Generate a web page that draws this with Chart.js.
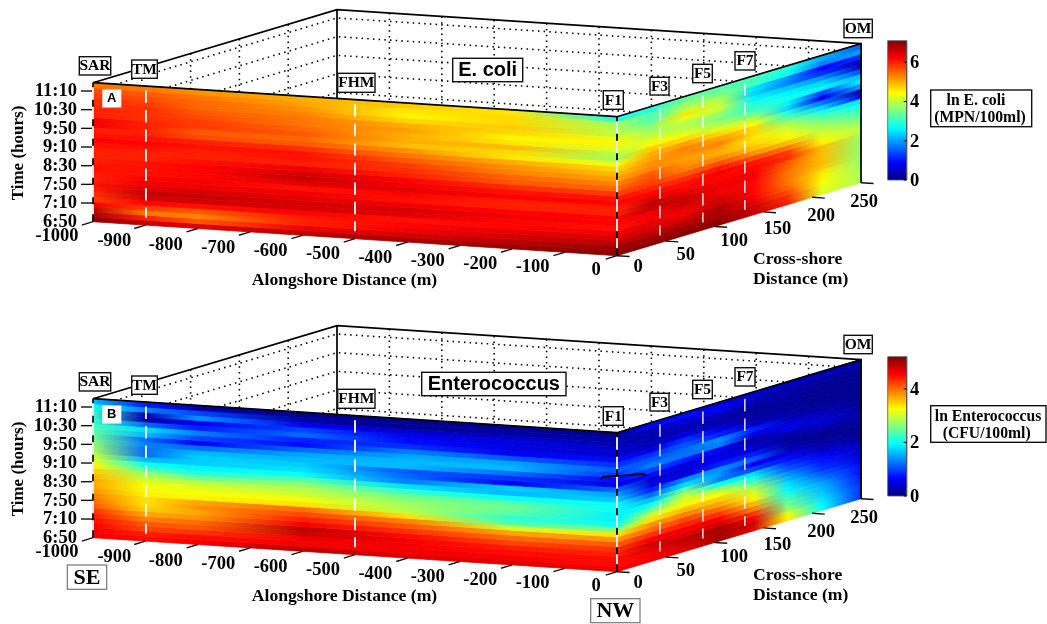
<!DOCTYPE html>
<html><head><meta charset="utf-8">
<script src="https://cdn.jsdelivr.net/npm/chart.js@4"></script>
<style>
html,body{margin:0;padding:0;background:#fff;width:1047px;height:624px;overflow:hidden}
canvas{position:absolute;left:0;filter:blur(0.45px)}
#a{top:0}#b{top:316px}
</style></head><body>
<canvas id="a" width="1047" height="308"></canvas>
<canvas id="b" width="1047" height="308"></canvas>
<script>
// ---- axes
const timeLabels=['6:50','7:10','7:50','8:30','9:10','9:50','10:30','11:10'];
const alongTicks=[-1000,-900,-800,-700,-600,-500,-400,-300,-200,-100,0];
const crossTicks=[0,50,100,150,200,250];
const frontCols=[-1000,-900,-800,-600,-400,-200,0];
const sideCols=[0,35,70,105,140,175,210,250];
const stationNames=['SAR','TM','FHM','F1','F3','F5','F7'];
const stationAlong=[-1000,-899,-500,0,0,0,0];
const stationCross=[0,0,0,0,44,88,131];

// ---- ln E. coli, alongshore wall, one list per alongshore position, top row (latest) first
const ecoliF1000=[5.4,5.7,5.8,5.9,5.9,6.0,6.0,6.3,6.3,6.0,6.1,6.2,6.1,6.0,6.0,6.0,6.1,6.1,6.0,6.0,6.1,6.0,5.9,5.8,6.3,6.7,6.8,7.0];
const ecoliF900=[5.4,5.6,5.7,5.8,5.9,5.9,5.9,6.0,6.0,6.0,6.1,6.2,6.1,6.0,6.0,6.1,6.1,6.1,6.2,6.3,6.4,6.6,6.5,6.2,5.8,5.4,6.0,6.6];
const ecoliF800=[5.2,5.4,5.5,5.5,5.6,5.7,5.8,5.8,5.6,5.7,6.0,6.1,6.0,6.0,6.1,6.2,6.2,6.2,6.3,6.3,6.5,6.6,6.5,6.1,5.6,5.3,5.6,6.4];
const ecoliF600=[5.0,5.1,5.2,5.3,5.4,5.4,5.5,5.6,5.5,5.6,5.9,6.1,6.1,6.0,6.3,6.5,6.6,6.4,6.1,6.3,6.4,6.5,6.5,6.2,6.0,6.0,6.3,6.7];
const ecoliF400=[4.8,4.6,4.5,4.7,5.0,5.1,5.0,5.0,4.9,5.2,5.4,5.6,5.8,5.9,6.0,6.2,6.3,6.4,6.2,6.1,6.3,6.5,6.4,6.1,6.2,6.3,6.5,6.8];
const ecoliF200=[4.6,4.7,4.7,4.8,4.7,4.5,4.6,4.9,4.7,4.6,5.0,5.2,5.3,5.5,5.6,5.9,6.1,6.2,6.0,6.0,6.2,6.3,6.2,6.2,6.4,6.5,6.7,6.9];
const ecoliF0=[2.9,3.8,3.9,4.0,4.3,4.5,4.2,3.9,3.8,4.3,4.7,4.9,5.1,5.3,5.5,5.8,6.1,6.2,6.0,6.0,6.2,6.2,6.1,6.3,6.5,6.7,6.9,7.0];
// ---- ln E. coli, cross-shore wall
const ecoliS35=[2.9,3.2,3.2,3.5,3.7,3.9,4.2,4.5,4.8,5.0,5.1,5.2,5.3,5.6,5.7,5.8,6.0,6.2,6.5,6.7,6.6,6.3,6.3,6.4,6.5,6.7,6.9,7.0];
const ecoliS70=[3.4,3.7,4.0,4.6,4.2,3.9,4.0,4.3,4.7,5.1,5.3,5.2,5.1,5.2,5.3,5.6,5.9,6.1,6.2,6.4,6.6,6.6,6.4,6.3,6.5,6.7,6.9,7.0];
const ecoliS105=[3.3,3.5,3.9,4.0,4.1,3.7,3.6,3.8,4.2,4.7,5.1,5.3,5.1,5.0,5.3,5.7,6.1,6.3,6.2,6.3,6.3,6.3,6.5,6.6,6.8,6.8,6.9,7.0];
const ecoliS140=[3.1,3.1,2.5,2.4,2.6,2.9,3.0,3.4,3.9,4.4,4.7,4.7,4.6,4.7,4.9,5.2,5.7,6.1,6.2,6.3,6.3,6.2,6.2,6.2,6.3,6.4,6.6,6.6];
const ecoliS175=[2.9,2.7,1.9,1.8,2.3,2.6,2.8,2.6,2.4,2.9,3.3,3.8,4.1,4.3,4.5,4.9,5.4,5.8,5.9,5.6,5.5,5.4,5.4,5.4,5.5,5.7,5.9,6.0];
const ecoliS210=[2.1,1.8,0.9,1.2,1.9,2.4,2.6,1.3,0.8,1.7,2.4,2.9,3.3,3.6,3.9,4.1,4.3,4.5,4.9,4.9,4.9,4.9,4.8,4.6,4.5,4.4,4.3,4.2];
const ecoliS250=[1.6,2.0,1.2,0.4,0.5,1.4,2.2,2.6,2.0,0.3,0.8,2.5,2.8,3.1,3.3,3.6,3.9,3.9,3.8,3.7,3.7,3.7,3.7,3.7,3.8,3.8,3.9,3.9];
// ---- ln Enterococcus, alongshore wall
const enteroF1000=[1.6,2.0,2.2,2.2,2.2,2.3,2.4,2.5,2.6,2.7,2.8,3.0,3.1,3.3,3.5,3.6,3.7,3.7,3.8,3.9,4.0,4.1,4.3,4.4,4.5,4.6,4.6,4.6];
const enteroF900=[0.8,1.3,0.3,0.2,1.2,1.8,1.6,1.2,1.3,1.2,1.2,1.6,2.0,2.4,2.8,3.0,3.2,3.2,3.3,3.4,3.4,3.5,3.7,3.9,4.1,4.2,4.4,4.5];
const enteroF800=[0.2,1.0,1.4,0.6,0.8,1.3,1.0,0.6,1.2,1.6,1.7,1.7,1.9,2.1,2.5,2.9,3.1,3.2,3.3,3.7,3.8,3.7,3.8,4.0,4.1,4.3,4.5,4.6];
const enteroF600=[0.1,0.2,0.6,1.0,1.2,0.8,0.7,1.2,1.5,1.6,1.7,1.8,2.0,2.4,2.7,2.9,3.0,3.2,3.4,4.0,4.2,4.4,4.6,4.9,4.8,4.6,4.6,4.9];
const enteroF400=[0.1,0.1,0.4,0.6,0.7,0.9,1.3,1.5,1.6,1.6,1.1,1.2,1.3,1.8,2.2,2.5,2.7,2.8,2.9,3.4,3.9,4.1,4.3,4.5,4.6,4.6,4.6,4.7];
const enteroF200=[0.1,0.2,0.4,0.5,0.5,0.6,1.1,1.5,1.6,1.2,0.9,0.6,1.7,1.6,2.0,2.4,2.5,2.4,2.2,2.3,3.0,3.7,4.0,4.2,4.4,4.5,4.6,4.7];
const enteroF0=[0.1,0.2,0.3,0.4,0.4,0.7,0.9,1.1,0.9,0.6,0.5,1.2,1.5,1.7,2.0,2.0,1.9,1.9,2.0,2.6,3.4,3.8,4.1,4.3,4.4,4.5,4.5,4.6];
// ---- ln Enterococcus, cross-shore wall
const enteroS35=[0.6,0.3,0.2,0.3,0.3,0.5,0.9,1.1,1.3,1.0,0.7,0.4,0.5,0.8,1.2,1.6,2.0,2.5,3.0,3.4,3.8,4.0,4.3,4.6,4.8,4.7,4.6,4.6];
const enteroS70=[0.7,0.5,0.3,0.3,0.5,0.9,1.1,1.2,1.2,0.8,0.5,0.4,0.5,1.4,1.8,2.5,2.9,3.1,3.3,3.6,3.9,4.2,4.4,4.6,4.7,4.9,4.8,4.7];
const enteroS105=[0.5,0.6,0.3,0.2,0.3,0.5,0.8,1.4,1.3,0.6,0.5,0.6,0.8,1.4,1.4,1.3,2.0,2.8,3.2,3.5,3.7,4.0,4.3,4.6,4.8,5.0,5.0,5.0];
const enteroS140=[0.4,0.3,0.2,0.15,0.15,0.2,0.4,0.8,0.5,0.2,0.3,0.4,0.8,1.1,0.6,1.0,1.8,2.1,2.5,2.9,3.1,3.3,3.6,3.9,4.3,4.6,4.8,4.7];
const enteroS175=[0.3,0.2,0.2,0.15,0.15,0.15,0.2,0.3,0.5,0.5,0.2,0.15,0.15,0.3,0.5,0.7,0.9,1.1,1.4,1.6,1.8,1.9,2.1,2.3,2.5,2.7,3.1,3.3];
const enteroS210=[0.3,0.2,0.1,0.1,0.1,0.1,0.1,0.2,0.3,0.4,0.4,0.2,0.1,0.1,0.2,0.3,0.5,0.7,0.8,0.9,1.1,1.3,1.5,1.6,1.7,1.8,1.9,2.0];
const enteroS250=[0.2,0.15,0.1,0.1,0.1,0.1,0.1,0.1,0.1,0.15,0.2,0.2,0.15,0.1,0.1,0.15,0.3,0.35,0.4,0.5,0.6,0.7,0.7,0.8,0.8,0.9,0.9,0.9];

const ecoliFront=[ecoliF1000,ecoliF900,ecoliF800,ecoliF600,ecoliF400,ecoliF200,ecoliF0];
const ecoliSide=[ecoliF0,ecoliS35,ecoliS70,ecoliS105,ecoliS140,ecoliS175,ecoliS210,ecoliS250];
const enteroFront=[enteroF1000,enteroF900,enteroF800,enteroF600,enteroF400,enteroF200,enteroF0];
const enteroSide=[enteroF0,enteroS35,enteroS70,enteroS105,enteroS140,enteroS175,enteroS210,enteroS250];

// ---- view
const ROWS=28, ZTOP=7.445;
function P(a,c,z){return {x:617+0.524*a+0.976*c, y:255.7+0.034*a-0.292*c-18.67*z};}
function jet(f){
  const cl=v=>Math.round(255*Math.max(0,Math.min(1,v)));
  return `rgb(${cl(Math.min(4*f-1.5,-4*f+4.5))},${cl(Math.min(4*f-0.5,-4*f+3.5))},${cl(Math.min(4*f+0.5,-4*f+2.5))})`;
}
const SERIF="'Liberation Serif'", SANS="'Liberation Sans'";
const alongLabelOff=[[-36,15],[-31,16],[-32,16.5],[-32,16.5],[-32,16],[-32,16],[-32,16],[-32,15.5],[-32,15.5],[-32,15.4],[-21,15]];
const crossLabelOff=[[21,12],[20,14],[19.4,15],[14,17],[9,18.5],[3,19.6]];
const stationBox=[[79.3,56.7,110.7,75],[131.7,60,157.3,78.3],[337.7,73.3,375,92.3],[603.3,90.7,623.3,109.3],[650,77.3,669,95],[692.7,64.3,712.3,82.7],[735,51.7,755,70]];

function line(pts,o){return Object.assign({data:pts,showLine:true,pointRadius:0,fill:false,tension:0,borderWidth:1,borderColor:'#000'},o);}

function makePanel(id,cfg){
  const canvas=document.getElementById(id), ctx=canvas.getContext('2d');
  const ds=[];
  const dotted={borderColor:'#000',borderWidth:1.6,borderDash:[1.5,4.2],order:100};
  // walls grid
  for(let k=1;k<timeLabels.length;k++){
    ds.push(line([P(-1000,0,k),P(-1000,250,k),P(0,250,k)],dotted));
  }
  alongTicks.slice(1,-1).forEach(a=>ds.push(line([P(a,250,ZTOP),P(a,250,0)],dotted)));
  crossTicks.slice(1,-1).forEach(c=>ds.push(line([P(-1000,c,ZTOP),P(-1000,c,0)],dotted)));
  const edge={borderColor:'#000',borderWidth:1.7};
  ds.push(line([P(-1000,0,ZTOP),P(-1000,250,ZTOP),P(0,250,ZTOP)],{...edge,order:90}));
  ds.push(line([P(-1000,250,ZTOP),P(-1000,250,0)],{...edge,order:90}));
  // heat strips
  function strips(cols,matrix,pt){
    const lo=cols[0], hi=cols[cols.length-1];
    for(let r=0;r<ROWS;r++){
      const zT=ZTOP*(1-r/ROWS), zB=ZTOP*(1-(r+1)/ROWS);
      const g=ctx.createLinearGradient(pt(lo,0).x,0,pt(hi,0).x,0);
      cols.forEach((v,i)=>g.addColorStop((v-lo)/(hi-lo),jet(matrix[i][r]/cfg.vmax)));
      ds.push(line([pt(lo,zT),pt(hi,zT),pt(hi,zB),pt(lo,zB),pt(lo,zT)],{fill:'shape',backgroundColor:g,borderColor:g,borderWidth:0.8,order:50}));
    }
  }
  strips(frontCols,cfg.front,(a,z)=>P(a,0,z));
  strips(sideCols,cfg.side,(c,z)=>P(0,c,z));
  // box edges in front of the heat
  ds.push(line([P(-1000,0,ZTOP),P(0,0,ZTOP),P(0,250,ZTOP),P(0,250,0)],{...edge,order:20}));
  ds.push(line([P(0,0,ZTOP),P(0,0,0)],{borderColor:'#000',borderWidth:1.8,order:20}));
  ds.push(line([P(-1000,0,ZTOP),P(-1000,0,0)],{borderColor:'#000',borderWidth:1.6,order:20}));
  // station dashes
  stationNames.forEach((n,i)=>{
    const a=stationAlong[i],c=stationCross[i];
    ds.push(line([P(a,c,ZTOP-0.24),P(a,c,0.4)],{borderColor:'#fff',borderWidth:i>3?1.3:1.8,borderDash:[12.5,7],order:10}));
  });
  // ticks
  const tk={borderColor:'#111',borderWidth:1.4,order:15};
  alongTicks.forEach(a=>ds.push(line([P(a,0,0),P(a,-11.5,0)],tk)));
  crossTicks.forEach(c=>ds.push(line([P(0,c,0),P(24,c,0)],tk)));
  for(let k=1;k<timeLabels.length;k++){const p=P(-1000,0,k);ds.push(line([p,{x:p.x-12,y:p.y}],tk));}
  // colorbar
  const cb={x0:887.7,x1:906.7,top:40.7,bottom:180};
  const cg=ctx.createLinearGradient(0,cb.bottom,0,cb.top);
  for(let i=0;i<=32;i++)cg.addColorStop(i/32,jet(i/32));
  ds.push(line([{x:cb.x0,y:cb.top},{x:cb.x1,y:cb.top},{x:cb.x1,y:cb.bottom},{x:cb.x0,y:cb.bottom},{x:cb.x0,y:cb.top}],{fill:'shape',backgroundColor:cg,borderColor:'#555',borderWidth:0.8,order:30}));
  const cy=v=>cb.bottom-(cb.bottom-cb.top)*v/cfg.vmax;
  cfg.cbTicks.forEach(v=>ds.push(line([{x:cb.x1-3,y:cy(v)},{x:cb.x1,y:cy(v)}],{borderColor:'#000',order:15})));
  if(cfg.mark) ds.push(line(cfg.mark,{borderColor:'#000',borderWidth:1.4,order:5}));

  const labels={id:'labels',afterDatasetsDraw(ch){
    const c=ch.ctx; c.save(); c.fillStyle='#000'; c.textBaseline='middle';
    const txt=(s,x,y,f,al)=>{c.font=f;c.textAlign=al||'center';c.fillText(s,x,y);};
    const box=(r,col,w)=>{c.fillStyle='#fff';c.fillRect(r[0],r[1],r[2]-r[0],r[3]-r[1]);c.strokeStyle=col||'#111';c.lineWidth=w||1.4;c.strokeRect(r[0],r[1],r[2]-r[0],r[3]-r[1]);c.fillStyle='#000';};
    const tf=`bold 18.5px ${SERIF}`;
    timeLabels.forEach((s,k)=>txt(s,77,P(-1000,0,k).y+0.5,tf,'right'));
    alongTicks.forEach((a,i)=>{const p=P(a,0,0),o=alongLabelOff[i];txt(String(a),p.x+o[0],p.y+o[1],tf);});
    crossTicks.forEach((v,i)=>{const p=P(0,v,0),o=crossLabelOff[i];txt(String(v),p.x+o[0],p.y+o[1],tf);});
    const af=`bold 17.6px ${SERIF}`;
    txt('Alongshore Distance (m)',344.5,280,af);
    txt('Cross-shore',753,259,af,'left');
    txt('Distance (m)',753,279,af,'left');
    c.save();c.translate(19,153);c.rotate(-Math.PI/2);txt('Time (hours)',0,0,`bold 17px ${SERIF}`);c.restore();
    stationNames.forEach((n,i)=>{const r=stationBox[i];box(r);txt(n,(r[0]+r[2])/2,(r[1]+r[3])/2+0.5,`bold 15.5px ${SERIF}`);});
    const om=[844,19.3,872.3,37.7];box(om);txt('OM',(om[0]+om[2])/2,(om[1]+om[3])/2+0.5,`bold 15.5px ${SERIF}`);
    box(cfg.titleBox);txt(cfg.title,(cfg.titleBox[0]+cfg.titleBox[2])/2,(cfg.titleBox[1]+cfg.titleBox[3])/2+0.5,`bold 20px ${SANS}`);
    c.fillStyle='#fff';c.fillRect(102.3,89.5,19,18);c.fillStyle='#000';
    txt(cfg.tag,111.8,98.5,`bold 13px ${SANS}`);
    cfg.cbTicks.forEach(v=>txt(String(v),910,cy(v)+1,`bold 18.5px ${SERIF}`,'left'));
    box(cfg.unitBox);
    cfg.unit.forEach((s,i)=>txt(s,cfg.unitPos[i],i?118:100.5,`bold 15.7px ${SERIF}`));
    (cfg.corners||[]).forEach(k=>{box(k.r,'#777',1.2);txt(k.s,(k.r[0]+k.r[2])/2,(k.r[1]+k.r[3])/2+1,`bold 22px ${SERIF}`);});
    c.restore();
  }};
  return new Chart(ctx,{type:'scatter',data:{datasets:ds},plugins:[labels],options:{
    responsive:false,animation:false,devicePixelRatio:1,layout:{padding:0},events:[],
    plugins:{legend:{display:false},tooltip:{enabled:false},title:{display:false}},
    scales:{x:{type:'linear',min:0,max:1047,display:false},y:{type:'linear',min:0,max:308,reverse:true,display:false}}
  }});
}
makePanel('a',{vmax:7.1,front:ecoliFront,side:ecoliSide,cbTicks:[0,2,4,6],title:'E. coli',titleBox:[452.7,58.3,522.7,81.7],tag:'A',
  unitBox:[930.7,90,1031.7,126.7],unit:['ln E. coli','(MPN/100ml)'],unitPos:[976,980]});
makePanel('b',{vmax:5.2,front:enteroFront,side:enteroSide,cbTicks:[0,2,4],title:'Enterococcus',titleBox:[421.7,56.3,566,79.7],tag:'B',
  unitBox:[930.7,89.7,1046,126.3],unit:['ln Enterococcus','(CFU/100ml)'],unitPos:[988,986.7],
  corners:[{s:'SE',r:[67.3,249,106.7,273.3]},{s:'NW',r:[590.7,282.7,640,306.7]}],
  mark:[{x:600.7,y:163.3},{x:603.3,y:160.7},{x:616.7,y:160},{x:644,y:158},{x:645,y:159.7}]});
</script></body></html>
